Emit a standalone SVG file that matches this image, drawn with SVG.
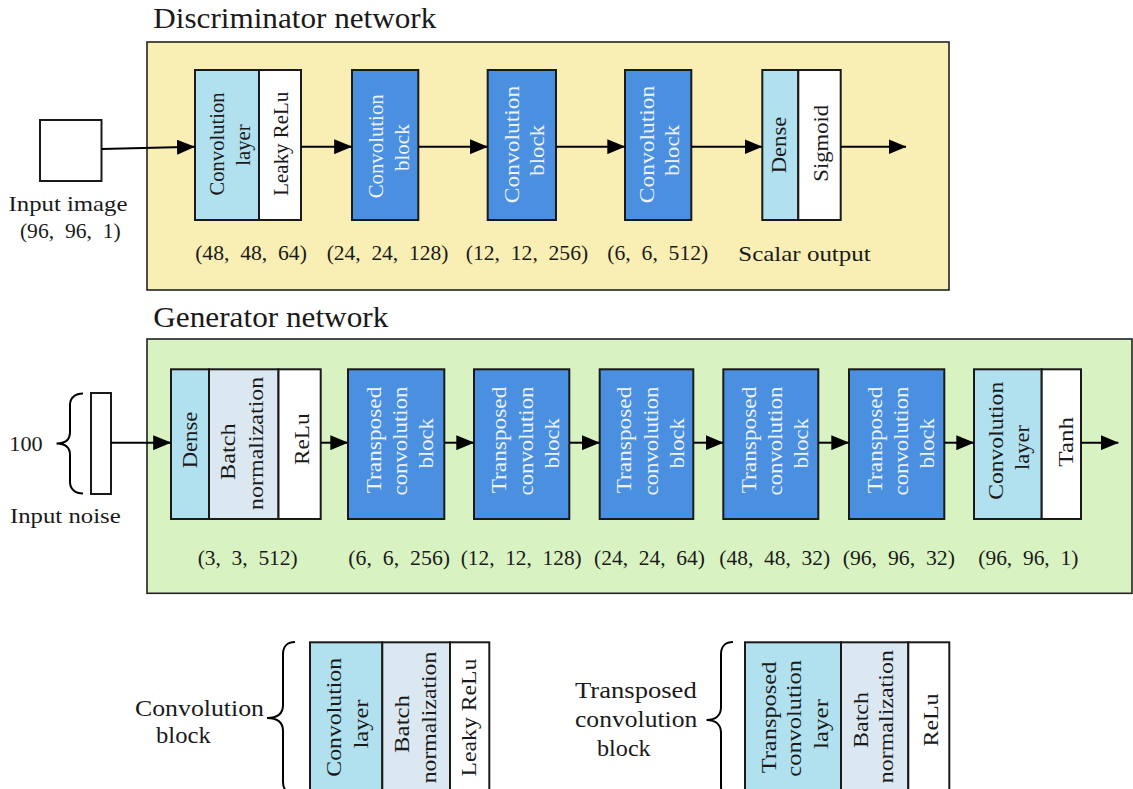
<svg xmlns="http://www.w3.org/2000/svg" width="1133" height="789" viewBox="0 0 1133 789">
<style>
  text { font-family: "Liberation Serif", "Times New Roman", serif; fill: #1a1a1a; }
  .title { font-size: 29px; }
  .lab { font-size: 22px; }
  .side { font-size: 24px; }
  .mid { text-anchor: middle; }
  .rt { text-anchor: middle; dominant-baseline: central; font-size: 22px; }
  .sm { font-size: 20.5px; }
  .wt { fill: #eef3fb; }
  .box { stroke: #1a1a1a; stroke-width: 2; }
  .lb { fill: #b1e0ef; }
  .bl { fill: #4a8fe0; }
  .bn { fill: #dce8f1; }
  .wh { fill: #ffffff; }
  .frame { stroke: #222; stroke-width: 1.6; }
  .conn { stroke: #000; stroke-width: 2; fill: none; marker-end: url(#ah); }
  .brace { stroke: #000; stroke-width: 2; fill: none; }
</style>
<defs>
  <marker id="ah" markerUnits="userSpaceOnUse" viewBox="0 0 18 15" markerWidth="18" markerHeight="15" refX="17.5" refY="7.5" orient="auto">
    <path d="M0,0 L18,7.5 L0,15 z" fill="#000"/>
  </marker>
</defs>
<rect width="1133" height="789" fill="#fff"/>

<!-- Discriminator -->
<g id="discriminator-frame">
  <rect class="frame" x="147" y="42" width="802" height="248" fill="#f9eeb3"/>
  <text class="title" x="153.3" y="28.3" textLength="283" lengthAdjust="spacingAndGlyphs">Discriminator network</text>
</g>
<g id="d-input">
  <rect class="box wh" x="40" y="120" width="61.5" height="61"/>
  <text class="lab mid" x="68" y="210.7" textLength="119" lengthAdjust="spacingAndGlyphs">Input image</text>
  <text class="lab mid" x="70.3" y="238.3" textLength="100.7" lengthAdjust="spacingAndGlyphs">(96,&#160; 96,&#160; 1)</text>
</g>
<g id="d-conv-layer">
  <rect class="box lb" x="195" y="70" width="64" height="150"/>
  <rect class="box wh" x="259" y="70" width="42" height="150"/>
  <text class="rt sm" transform="translate(216.7,144) rotate(-90)" textLength="103" lengthAdjust="spacingAndGlyphs">Convolution</text>
  <text class="rt sm" transform="translate(243,145) rotate(-90)" textLength="41.5" lengthAdjust="spacingAndGlyphs">layer</text>
  <text class="rt sm" transform="translate(281,143.7) rotate(-90)" textLength="104" lengthAdjust="spacingAndGlyphs">Leaky ReLu</text>
  <text class="lab mid" x="251" y="260" textLength="111.7" lengthAdjust="spacingAndGlyphs">(48,&#160; 48,&#160; 64)</text>
</g>
<g id="d-conv-block-1">
  <rect class="box bl" x="352" y="70" width="66.3" height="150"/>
  <text class="rt sm wt" transform="translate(375.8,146.3) rotate(-90)" textLength="104" lengthAdjust="spacingAndGlyphs">Convolution</text>
  <text class="rt sm wt" transform="translate(401.7,147.7) rotate(-90)" textLength="46.7" lengthAdjust="spacingAndGlyphs">block</text>
  <text class="lab mid" x="387.5" y="260" textLength="121.7" lengthAdjust="spacingAndGlyphs">(24,&#160; 24,&#160; 128)</text>
</g>
<g id="d-conv-block-2">
  <rect class="box bl" x="487.7" y="70" width="68.3" height="150"/>
  <text class="rt wt" transform="translate(511.3,144.5) rotate(-90)" textLength="117.6" lengthAdjust="spacingAndGlyphs">Convolution</text>
  <text class="rt wt" transform="translate(536.3,150.3) rotate(-90)" textLength="50.7" lengthAdjust="spacingAndGlyphs">block</text>
  <text class="lab mid" x="527" y="260" textLength="122.3" lengthAdjust="spacingAndGlyphs">(12,&#160; 12,&#160; 256)</text>
</g>
<g id="d-conv-block-3">
  <rect class="box bl" x="625" y="70" width="66.3" height="150"/>
  <text class="rt wt" transform="translate(646.3,144.5) rotate(-90)" textLength="117.6" lengthAdjust="spacingAndGlyphs">Convolution</text>
  <text class="rt wt" transform="translate(671.5,150.3) rotate(-90)" textLength="50.7" lengthAdjust="spacingAndGlyphs">block</text>
  <text class="lab mid" x="657.8" y="260" textLength="101" lengthAdjust="spacingAndGlyphs">(6,&#160; 6,&#160; 512)</text>
</g>
<g id="d-dense">
  <rect class="box lb" x="762.3" y="70" width="36" height="150"/>
  <rect class="box wh" x="798.3" y="70" width="42.4" height="150"/>
  <text class="rt" transform="translate(778.3,145) rotate(-90)" textLength="56.6" lengthAdjust="spacingAndGlyphs">Dense</text>
  <text class="rt" transform="translate(820,143.3) rotate(-90)" textLength="76.7" lengthAdjust="spacingAndGlyphs">Sigmoid</text>
  <text class="lab mid" x="804.5" y="260.5" textLength="132.4" lengthAdjust="spacingAndGlyphs">Scalar output</text>
</g>

<!-- Generator -->
<g id="generator-frame">
  <rect class="frame" x="147" y="339" width="985" height="254.3" fill="#d9f2c1"/>
  <text class="title" x="153.3" y="326.7" textLength="235" lengthAdjust="spacingAndGlyphs">Generator network</text>
</g>
<g id="g-noise">
  <rect class="box wh" x="91" y="393" width="20" height="101"/>
  <path class="brace" d="M83,393.5 C75.5,393.5 70,397.5 70,405 L70,432 C70,439 66,443.5 56.5,443.5 C66,443.5 70,448 70,455 L70,482 C70,489.5 75.5,493.5 83,493.5"/>
  <text class="lab" x="9.3" y="451" textLength="33.4" lengthAdjust="spacingAndGlyphs">100</text>
  <text class="lab" x="10" y="523.3" textLength="110.7" lengthAdjust="spacingAndGlyphs">Input noise</text>
</g>
<g id="g-dense">
  <rect class="box lb" x="171" y="369.3" width="38" height="149.7"/>
  <rect class="box bn" x="209" y="369.3" width="69.5" height="149.7"/>
  <rect class="box wh" x="278.5" y="369.3" width="42.2" height="149.7"/>
  <text class="rt" transform="translate(189.3,440) rotate(-90)" textLength="56.6" lengthAdjust="spacingAndGlyphs">Dense</text>
  <text class="rt" transform="translate(227.7,451.7) rotate(-90)" textLength="56.7" lengthAdjust="spacingAndGlyphs">Batch</text>
  <text class="rt" transform="translate(255,443.3) rotate(-90)" textLength="133.3" lengthAdjust="spacingAndGlyphs">normalization</text>
  <text class="rt" transform="translate(301.7,439.2) rotate(-90)" textLength="51.7" lengthAdjust="spacingAndGlyphs">ReLu</text>
  <text class="lab mid" x="247.7" y="565" textLength="100" lengthAdjust="spacingAndGlyphs">(3,&#160; 3,&#160; 512)</text>
</g>
<g id="g-tconv-1">
  <rect class="box bl" x="348" y="369.3" width="96.3" height="149.7"/>
  <text class="rt wt" transform="translate(373,440) rotate(-90)" textLength="106.6" lengthAdjust="spacingAndGlyphs">Transposed</text>
  <text class="rt wt" transform="translate(399.5,441) rotate(-90)" textLength="109" lengthAdjust="spacingAndGlyphs">convolution</text>
  <text class="rt wt" transform="translate(425.5,443.3) rotate(-90)" textLength="50" lengthAdjust="spacingAndGlyphs">block</text>
  <text class="lab mid" x="399.2" y="565" textLength="101.7" lengthAdjust="spacingAndGlyphs">(6,&#160; 6,&#160; 256)</text>
</g>
<g id="g-tconv-2">
  <rect class="box bl" x="474" y="369.3" width="95.3" height="149.7"/>
  <text class="rt wt" transform="translate(498.5,440) rotate(-90)" textLength="106.6" lengthAdjust="spacingAndGlyphs">Transposed</text>
  <text class="rt wt" transform="translate(525.5,441) rotate(-90)" textLength="109" lengthAdjust="spacingAndGlyphs">convolution</text>
  <text class="rt wt" transform="translate(551.5,443.3) rotate(-90)" textLength="50" lengthAdjust="spacingAndGlyphs">block</text>
  <text class="lab mid" x="521.2" y="565" textLength="121" lengthAdjust="spacingAndGlyphs">(12,&#160; 12,&#160; 128)</text>
</g>
<g id="g-tconv-3">
  <rect class="box bl" x="599.7" y="369.3" width="93.6" height="149.7"/>
  <text class="rt wt" transform="translate(623.5,440) rotate(-90)" textLength="106.6" lengthAdjust="spacingAndGlyphs">Transposed</text>
  <text class="rt wt" transform="translate(650,441) rotate(-90)" textLength="109" lengthAdjust="spacingAndGlyphs">convolution</text>
  <text class="rt wt" transform="translate(676,443.3) rotate(-90)" textLength="50" lengthAdjust="spacingAndGlyphs">block</text>
  <text class="lab mid" x="649.5" y="565" textLength="111" lengthAdjust="spacingAndGlyphs">(24,&#160; 24,&#160; 64)</text>
</g>
<g id="g-tconv-4">
  <rect class="box bl" x="723.3" y="369.3" width="95" height="149.7"/>
  <text class="rt wt" transform="translate(748,440) rotate(-90)" textLength="106.6" lengthAdjust="spacingAndGlyphs">Transposed</text>
  <text class="rt wt" transform="translate(774.5,441) rotate(-90)" textLength="109" lengthAdjust="spacingAndGlyphs">convolution</text>
  <text class="rt wt" transform="translate(800.5,443.3) rotate(-90)" textLength="50" lengthAdjust="spacingAndGlyphs">block</text>
  <text class="lab mid" x="774.7" y="565" textLength="110.7" lengthAdjust="spacingAndGlyphs">(48,&#160; 48,&#160; 32)</text>
</g>
<g id="g-tconv-5">
  <rect class="box bl" x="849" y="369.3" width="95.3" height="149.7"/>
  <text class="rt wt" transform="translate(874,440) rotate(-90)" textLength="106.6" lengthAdjust="spacingAndGlyphs">Transposed</text>
  <text class="rt wt" transform="translate(900.5,441) rotate(-90)" textLength="109" lengthAdjust="spacingAndGlyphs">convolution</text>
  <text class="rt wt" transform="translate(926.5,443.3) rotate(-90)" textLength="50" lengthAdjust="spacingAndGlyphs">block</text>
  <text class="lab mid" x="898.8" y="565" textLength="112.3" lengthAdjust="spacingAndGlyphs">(96,&#160; 96,&#160; 32)</text>
</g>
<g id="g-conv-layer">
  <rect class="box lb" x="974" y="369.3" width="67.7" height="149.7"/>
  <rect class="box wh" x="1041.7" y="369.3" width="39.3" height="149.7"/>
  <text class="rt" transform="translate(995,440.8) rotate(-90)" textLength="118" lengthAdjust="spacingAndGlyphs">Convolution</text>
  <text class="rt" transform="translate(1021.7,447.5) rotate(-90)" textLength="45" lengthAdjust="spacingAndGlyphs">layer</text>
  <text class="rt" transform="translate(1065,441.8) rotate(-90)" textLength="49.7" lengthAdjust="spacingAndGlyphs">Tanh</text>
  <text class="lab mid" x="1028.3" y="565" textLength="100" lengthAdjust="spacingAndGlyphs">(96,&#160; 96,&#160; 1)</text>
</g>

<!-- Connectors -->
<g id="connectors">
  <line class="conn" x1="101.7" y1="149" x2="194.5" y2="146.7"/>
  <line class="conn" x1="301" y1="146.7" x2="351.7" y2="146.7"/>
  <line class="conn" x1="418.3" y1="146.7" x2="487.5" y2="146.7"/>
  <line class="conn" x1="556" y1="146.7" x2="624.8" y2="146.7"/>
  <line class="conn" x1="691.3" y1="146.7" x2="762" y2="146.7"/>
  <line class="conn" x1="840.7" y1="146.7" x2="906" y2="146.7"/>
  <line class="conn" x1="111" y1="442.7" x2="170.7" y2="442.7"/>
  <line class="conn" x1="320.7" y1="442.7" x2="347.8" y2="442.7"/>
  <line class="conn" x1="444.3" y1="442.7" x2="473.8" y2="442.7"/>
  <line class="conn" x1="569.3" y1="442.7" x2="599.5" y2="442.7"/>
  <line class="conn" x1="693.3" y1="442.7" x2="723.1" y2="442.7"/>
  <line class="conn" x1="818.3" y1="442.7" x2="848.8" y2="442.7"/>
  <line class="conn" x1="944.3" y1="442.7" x2="973.8" y2="442.7"/>
  <line class="conn" x1="1081" y1="442.7" x2="1118.3" y2="442.7"/>
</g>

<!-- Legend: Convolution block -->
<g id="legend-conv-block">
  <text class="side" x="135" y="715.5" textLength="129" lengthAdjust="spacingAndGlyphs">Convolution</text>
  <text class="side" x="156" y="743.3" textLength="54.7" lengthAdjust="spacingAndGlyphs">block</text>
  <path class="brace" d="M295,642 C288,642 283,646 283,654 L283,705 C283,713 278,718 267,718 C278,718 283,723 283,731 L283,782 C283,790 288,794 295,794"/>
  <rect class="box lb" x="310" y="642.3" width="72.3" height="165"/>
  <rect class="box bn" x="382.3" y="642.3" width="67.7" height="165"/>
  <rect class="box wh" x="450" y="642.3" width="39.3" height="165"/>
  <text class="rt" transform="translate(333,717.3) rotate(-90)" textLength="118.7" lengthAdjust="spacingAndGlyphs">Convolution</text>
  <text class="rt" transform="translate(360.7,724) rotate(-90)" textLength="49" lengthAdjust="spacingAndGlyphs">layer</text>
  <text class="rt" transform="translate(401.7,724) rotate(-90)" textLength="58" lengthAdjust="spacingAndGlyphs">Batch</text>
  <text class="rt" transform="translate(428,717.5) rotate(-90)" textLength="131.6" lengthAdjust="spacingAndGlyphs">normalization</text>
  <text class="rt" transform="translate(468,717.5) rotate(-90)" textLength="118" lengthAdjust="spacingAndGlyphs">Leaky ReLu</text>
</g>

<!-- Legend: Transposed convolution block -->
<g id="legend-tconv-block">
  <text class="side" x="575" y="698.3" textLength="121.7" lengthAdjust="spacingAndGlyphs">Transposed</text>
  <text class="side" x="575" y="726.7" textLength="122.3" lengthAdjust="spacingAndGlyphs">convolution</text>
  <text class="side" x="597" y="756" textLength="53.7" lengthAdjust="spacingAndGlyphs">block</text>
  <path class="brace" d="M733,642 C726,642 721,646 721,654 L721,707 C721,715 716,720 706.5,720 C716,720 721,725 721,733 L721,786 C721,794 726,798 733,798"/>
  <rect class="box lb" x="745" y="642.3" width="96" height="165"/>
  <rect class="box bn" x="841" y="642.3" width="67.3" height="165"/>
  <rect class="box wh" x="908.3" y="642.3" width="41" height="165"/>
  <text class="rt" transform="translate(768.3,717.5) rotate(-90)" textLength="111.7" lengthAdjust="spacingAndGlyphs">Transposed</text>
  <text class="rt" transform="translate(793.3,718.3) rotate(-90)" textLength="116.7" lengthAdjust="spacingAndGlyphs">convolution</text>
  <text class="rt" transform="translate(820,724) rotate(-90)" textLength="50" lengthAdjust="spacingAndGlyphs">layer</text>
  <text class="rt" transform="translate(860,720) rotate(-90)" textLength="56" lengthAdjust="spacingAndGlyphs">Batch</text>
  <text class="rt" transform="translate(885,716.7) rotate(-90)" textLength="133.3" lengthAdjust="spacingAndGlyphs">normalization</text>
  <text class="rt" transform="translate(930,720) rotate(-90)" textLength="53" lengthAdjust="spacingAndGlyphs">ReLu</text>
</g>
</svg>
